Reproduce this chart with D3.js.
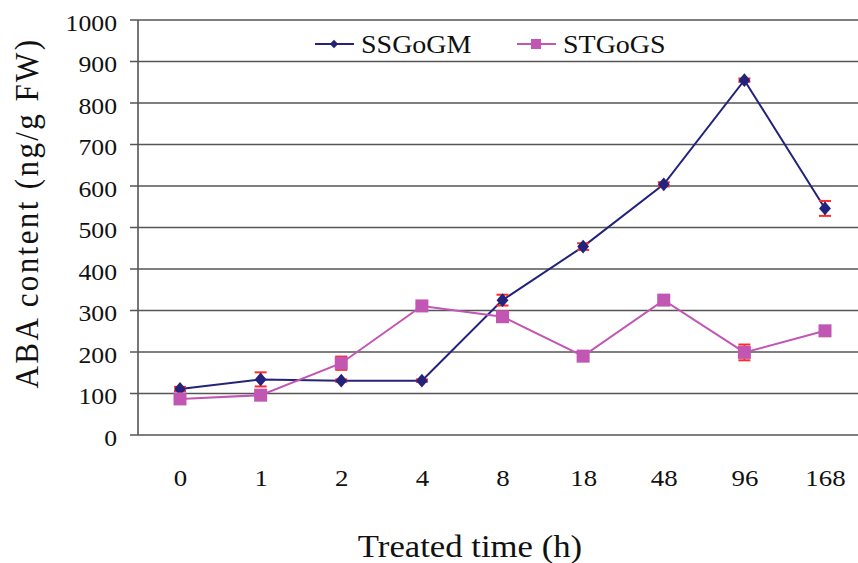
<!DOCTYPE html>
<html><head><meta charset="utf-8">
<script src="https://cdn.jsdelivr.net/npm/d3@7"></script>
<style>body{margin:0;background:#fff}svg{display:block}text{font-family:"Liberation Serif","Times New Roman",serif;fill:#111}</style>
</head><body><div id="c"></div>
<script>
const categories = ["0","1","2","4","8","18","48","96","168"];
const ssgogm = [111,134,131,131,325,454,604,855,546];
const ssgogmErr = [5,17,3,3,13,8,5,4,18];
const stgogs = [87,96,173,311,285,190,325,199,251];
const stgogsErr = [4,4,16,5,12,4,5,19,4];
const yTicks = [0,100,200,300,400,500,600,700,800,900,1000];
const seriesNames = ["SSGoGM","STGoGS"];

const W = 858, H = 563;
const SX = 1.12; // horizontal stretch of text
const svg = d3.select("#c").append("svg").attr("width", W).attr("height", H);
const x = d3.scalePoint().domain(categories).range([180, 825]);
const y = d3.scaleLinear().domain([0,1000]).range([435, 20]);
const left = 138, right = 858;

// gridlines
svg.append("g").selectAll("line").data(yTicks).join("line")
  .attr("x1", left - 8).attr("x2", right)
  .attr("y1", d => y(d)).attr("y2", d => y(d))
  .attr("stroke", "#555").attr("stroke-width", 1.6);
svg.append("line").attr("x1", left).attr("x2", left).attr("y1", y(1000)).attr("y2", y(0))
  .attr("stroke", "#555").attr("stroke-width", 1.6);

// y axis labels
const yAxis = svg.append("g").attr("transform", `translate(${left - 21},0)`)
  .call(d3.axisLeft(y).tickValues(yTicks).tickSize(0).tickPadding(0).tickFormat(d3.format("d")));
yAxis.select(".domain").remove();
yAxis.attr("font-family", null);
yAxis.selectAll("text").style("font-size", "23px").style("font-family", "'Liberation Serif'")
  .attr("fill", "#111").attr("x", 0).attr("dy", "0.45em").attr("transform", `scale(${SX},1)`);

// x axis labels
const xAxis = svg.append("g").attr("transform", `translate(0,${y(0)})`)
  .call(d3.axisBottom(x).tickSize(0).tickPadding(34));
xAxis.select(".domain").remove();
xAxis.attr("font-family", null);
xAxis.selectAll("text").style("font-size", "24px").style("font-family", "'Liberation Serif'")
  .attr("fill", "#111").attr("transform", `scale(${SX},1)`);

// axis titles
svg.append("text").attr("transform", `translate(470,557) scale(${SX},1)`).attr("text-anchor", "middle")
  .style("font-size", "31px").text("Treated time (h)");
svg.append("text").attr("transform", `translate(38,213) scale(${SX},1) rotate(-90)`).attr("text-anchor", "middle")
  .style("font-size", "31px").style("letter-spacing", "2.4px").text("ABA content (ng/g FW)");

const colors = ["#23237c", "#c256b3"];
const errColor = "#ff2a2a";
const datasets = [[ssgogm, ssgogmErr], [stgogs, stgogsErr]];

datasets.forEach(([vals, errs], i) => {
  const pts = categories.map((c, k) => ({c, v: vals[k], e: errs[k]}));
  const g = svg.append("g");
  g.append("path").datum(pts)
    .attr("d", d3.line().x(d => x(d.c)).y(d => y(d.v)))
    .attr("fill", "none").attr("stroke", colors[i]).attr("stroke-width", 2);
  const eb = g.selectAll("g.eb").data(pts).join("g");
  eb.append("line").attr("x1", d => x(d.c)).attr("x2", d => x(d.c))
    .attr("y1", d => y(d.v + d.e)).attr("y2", d => y(d.v - d.e))
    .attr("stroke", errColor).attr("stroke-width", 1.6);
  [1, -1].forEach(s => eb.append("line")
    .attr("x1", d => x(d.c) - 6).attr("x2", d => x(d.c) + 6)
    .attr("y1", d => y(d.v + s * d.e)).attr("y2", d => y(d.v + s * d.e))
    .attr("stroke", errColor).attr("stroke-width", 2));
  if (i === 0) {
    g.selectAll("path.m").data(pts).join("path").attr("class", "m")
      .attr("d", d3.symbol(d3.symbolDiamond2, 100))
      .attr("transform", d => `translate(${x(d.c)},${y(d.v)}) scale(0.95,1.1)`)
      .attr("fill", colors[i]);
  } else {
    g.selectAll("rect.m").data(pts).join("rect").attr("class", "m")
      .attr("x", d => x(d.c) - 6.5).attr("y", d => y(d.v) - 6.5)
      .attr("width", 13).attr("height", 13).attr("fill", colors[i]);
  }
});

// legend
const leg = [{x: 315, name: seriesNames[0]}, {x: 517, name: seriesNames[1]}];
leg.forEach((l, i) => {
  const g = svg.append("g");
  g.append("line").attr("x1", l.x).attr("x2", l.x + 39).attr("y1", 44).attr("y2", 44)
    .attr("stroke", colors[i]).attr("stroke-width", 2);
  if (i === 0) {
    g.append("path").attr("d", d3.symbol(d3.symbolDiamond2, 45))
      .attr("transform", `translate(${l.x + 19},44)`).attr("fill", colors[i]);
  } else {
    g.append("rect").attr("x", l.x + 14).attr("y", 39).attr("width", 10).attr("height", 10).attr("fill", colors[i]);
  }
  g.append("text").attr("transform", `translate(${l.x + 46},53) scale(${SX},1)`)
    .style("font-size", "25px").text(l.name);
});
</script></body></html>
